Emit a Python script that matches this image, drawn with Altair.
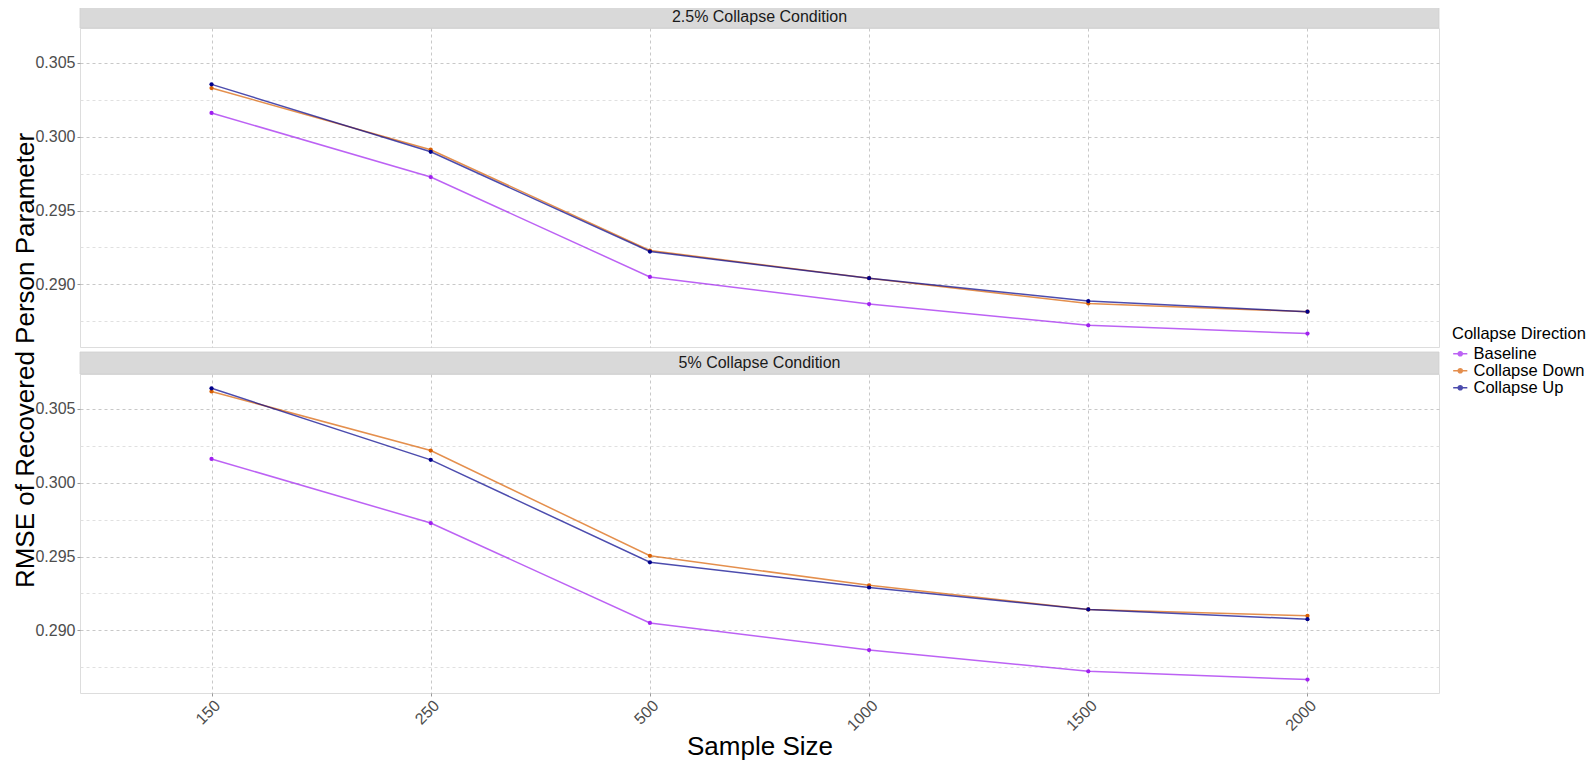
import altair as alt
import pandas as pd

# ---- data ----
sample_sizes = ["150", "250", "500", "1000", "1500", "2000"]
directions = ["Baseline", "Collapse Down", "Collapse Up"]
conditions = ["2.5% Collapse Condition", "5% Collapse Condition"]

baseline = [0.30161, 0.29727, 0.29050, 0.28866, 0.28722, 0.28666]
down_25 = [0.30330, 0.29912, 0.29229, 0.29041, 0.28870, 0.28814]
up_25 = [0.30355, 0.29898, 0.29222, 0.29041, 0.28886, 0.28814]
down_5 = [0.30619, 0.30218, 0.29505, 0.29305, 0.29141, 0.29098]
up_5 = [0.30640, 0.30155, 0.29461, 0.29290, 0.29141, 0.29075]

y_domain = [0.28575, 0.30737]
grid_values = [0.2875, 0.29, 0.2925, 0.295, 0.2975, 0.30, 0.3025, 0.305]

colors = ["#A020F0", "#D95F02", "#00008B"]

series = {
    conditions[0]: {"Baseline": baseline, "Collapse Down": down_25, "Collapse Up": up_25},
    conditions[1]: {"Baseline": baseline, "Collapse Down": down_5, "Collapse Up": up_5},
}

W, H = 1359, 319
STRIP = 22

minor_test = "abs(datum.value*200 - round(datum.value*200)) > 0.25"

color_scale = alt.Scale(domain=directions, range=colors)


def panel(cond, bottom):
    rows = []
    for d in directions:
        for s, v in zip(sample_sizes, series[cond][d]):
            rows.append({"n": s, "rmse": v, "dir": d})
    df = pd.DataFrame(rows)

    if bottom:
        xaxis = alt.Axis(
            title="Sample Size", labelAngle=-45, labelAlign="right", labelBaseline="top",
            labelFontSize=16, labelColor="#4D4D4D", titleFontSize=26, titleFontWeight="normal",
            titleColor="#000000", tickColor="#999999", tickSize=3, domain=False,
            grid=True, gridDash=[3, 3], gridColor="#C8C8C8", labelPadding=1, titlePadding=0,
        )
    else:
        xaxis = alt.Axis(
            title=None, labels=False, ticks=False, domain=False,
            grid=True, gridDash=[3, 3], gridColor="#C8C8C8",
        )

    yaxis_kwargs = dict(
        values=grid_values,
        labelExpr=minor_test + " ? '' : format(datum.value, '.3f')",
        labelFontSize=16, labelColor="#4D4D4D", domain=False,
        tickSize=3, tickColor="#999999",
        tickOpacity={"condition": {"test": minor_test, "value": 0}, "value": 1},
        grid=True, gridDash=[3, 3],
        gridColor={"condition": {"test": minor_test, "value": "#E0E0E0"}, "value": "#C8C8C8"},
    )
    if bottom:
        yaxis = alt.Axis(title=None, **yaxis_kwargs)
    else:
        yaxis = alt.Axis(
            title="RMSE of Recovered Person Parameter", titleFontSize=26,
            titleFontWeight="normal", titleColor="#000000",
            titleY=H + 13, titleX=-42, **yaxis_kwargs,
        )

    x = alt.X("n:N", sort=sample_sizes, scale=alt.Scale(type="point", padding=0.6), axis=xaxis)
    y = alt.Y("rmse:Q", scale=alt.Scale(domain=y_domain, zero=False, nice=False), axis=yaxis)
    color = alt.Color(
        "dir:N", scale=color_scale,
        legend=alt.Legend(
            title="Collapse Direction", orient="none", legendX=1372, legendY=298,
            titleFontSize=16.5, titleFontWeight="normal", titleColor="#000000",
            labelFontSize=16.5, labelColor="#000000", rowPadding=-1, titlePadding=3,
            symbolType="M-1,0H1M-0.3,0a0.3,0.3 0 1,0 0.6,0a0.3,0.3 0 1,0 -0.6,0",
            symbolSize=200, symbolStrokeWidth=1.5, labelOffset=5,
        ),
    )

    base = alt.Chart(df)
    lines = base.mark_line(strokeWidth=1.5, opacity=0.7).encode(x=x, y=y, color=color, detail="dir:N")
    points = base.mark_point(filled=True, size=18, opacity=1).encode(x=x, y=y, color=color)

    sdf = pd.DataFrame({"label": [cond]})
    strip = alt.Chart(sdf).mark_rect(fill="#D9D9D9", stroke="#CFCFCF", strokeWidth=0.8).encode(
        x=alt.value(0), x2=alt.value(W), y=alt.value(-STRIP), y2=alt.value(0)
    )
    strip_text = alt.Chart(sdf).mark_text(fontSize=16, color="#1A1A1A", baseline="middle").encode(
        x=alt.value(W / 2), y=alt.value(-STRIP / 2), text="label:N"
    )
    return alt.layer(strip, strip_text, lines, points).properties(width=W, height=H)


chart = alt.vconcat(
    panel(conditions[0], False), panel(conditions[1], True), spacing=27, bounds="flush"
).properties(
    padding={"top": -3, "left": 3, "right": 0, "bottom": 0}
).configure_view(
    stroke="#A6A6A6", strokeWidth=1.4
).configure(font="Liberation Sans")

chart.save("out.html", embed_options={"renderer": "svg", "actions": False})
